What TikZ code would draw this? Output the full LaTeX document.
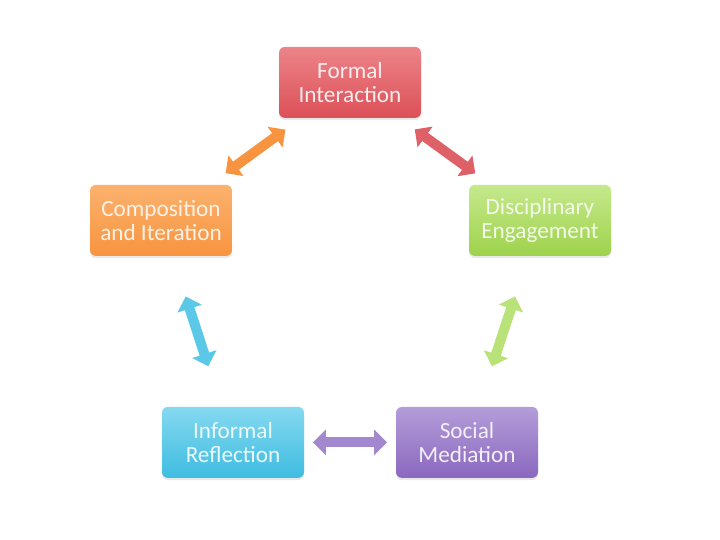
\documentclass[tikz,border=0pt]{standalone}
\usepackage{fontspec}
\setmainfont{Carlito}
\usetikzlibrary{arrows.meta, positioning, shadows}
\definecolor{CycleRed}{HTML}{DC5057}
\definecolor{CycleRedTop}{HTML}{EC8489}
\definecolor{CycleOrange}{HTML}{F8943F}
\definecolor{CycleOrangeTop}{HTML}{FBB26E}
\definecolor{CycleGreen}{HTML}{9ED24C}
\definecolor{CycleGreenTop}{HTML}{C5E98C}
\definecolor{CycleBlue}{HTML}{3EBCE0}
\definecolor{CycleBlueTop}{HTML}{85D9F0}
\definecolor{CyclePurple}{HTML}{8A68BE}
\definecolor{CyclePurpleTop}{HTML}{B49DDA}
\tikzset{
    % Node styles - rounded boxes with a vertical gradient
    cyclebox/.style={
        rectangle,
        rounded corners=0.15cm,
        draw=none,
        minimum width=3.55cm,
        minimum height=1.775cm,
        align=center,
        font=\fontsize{16.5}{17.5}\selectfont,
        drop shadow={shadow xshift=0pt, shadow yshift=-1.5pt, opacity=0.18}
    },
    redbox/.style={cyclebox, top color=CycleRedTop, bottom color=CycleRed, text=CycleRed!10},
    orangebox/.style={cyclebox, top color=CycleOrangeTop, bottom color=CycleOrange, text=CycleOrange!12},
    greenbox/.style={cyclebox, top color=CycleGreenTop, bottom color=CycleGreen, text=CycleGreen!12},
    bluebox/.style={cyclebox, top color=CycleBlueTop, bottom color=CycleBlue, text=CycleBlue!10},
    purplebox/.style={cyclebox, top color=CyclePurpleTop, bottom color=CyclePurple, text=CyclePurple!10},
    % Arrow style - short block double arrows between box centres
    twoway/.style={
        {Triangle[width=0.62cm,length=0.32cm]}-{Triangle[width=0.62cm,length=0.32cm]},
        line width=0.25cm,
        shorten <=2cm,
        shorten >=2cm
    }
}
\begin{document}
\begin{tikzpicture}
    \useasboundingbox[fill=white] (0,0) rectangle (18,13.5);

    % Boxes of the cycle
    \node[redbox] (formal) at (8.75,11.44) {Formal\\Interaction};
    \node[greenbox] (disc) at (13.5,7.99) {Disciplinary\\Engagement};
    \node[purplebox] (social) at (11.675,2.44) {Social\\Mediation};
    \node[bluebox] (informal) at (5.825,2.44) {Informal\\Reflection};
    \node[orangebox] (comp) at (4.025,7.99) {Composition\\and Iteration};

    % Arrows
    \draw[twoway,CycleRed!90] (formal.center) -- (disc.center);
    \draw[twoway,CycleGreenTop!70!CycleGreen] (disc.center) -- (social.center);
    \draw[twoway,CyclePurpleTop!60!CyclePurple] (social.center) -- (informal.center);
    \draw[twoway,CycleBlueTop!40!CycleBlue] (informal.center) -- (comp.center);
    \draw[twoway,CycleOrange] (comp.center) -- (formal.center);
\end{tikzpicture}
\end{document}
